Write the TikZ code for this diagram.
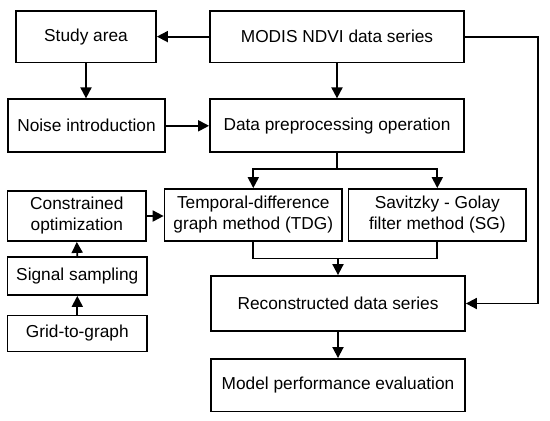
\documentclass[tikz,border=0pt]{standalone}
\usepackage{fontspec}
\setmainfont{Liberation Sans}
\usetikzlibrary{arrows.meta}
\begin{document}
\begin{tikzpicture}[x=1pt,y=-1pt, line width=1.8pt,
  box/.style={draw, line width=1.8pt, inner sep=0pt, align=center,
    font=\fontsize{17.3}{21}\selectfont},
  arr/.style={line width=1.8pt, -{Triangle[length=11pt,width=11pt]}},
  ln/.style={line width=1.8pt}]
\useasboundingbox[fill=white] (0,0) rectangle (550,421);
\node[box, minimum width=140pt, minimum height=51.8pt] (study) at (86,36.6) {Study area};
\node[box, minimum width=254pt, minimum height=51.8pt] (modis) at (337,36.6) {MODIS NDVI data series};
\node[box, minimum width=157pt, minimum height=53pt] (noise) at (86.5,125.8) {Noise introduction};
\node[box, minimum width=254pt, minimum height=53pt] (prep) at (337,125.8) {Data preprocessing operation};
\node[box, minimum width=138.5pt, minimum height=50pt] (cons) at (76.8,216) {Constrained\\optimization};
\node[box, minimum width=177.5pt, minimum height=52pt] (tdg) at (253.3,215) {Temporal-difference\\graph method (TDG)};
\node[box, minimum width=177.5pt, minimum height=52pt] (sg) at (437.3,215) {Savitzky - Golay\\filter method (SG)};
\node[box, minimum width=139.5pt, minimum height=38pt] (sig) at (77.3,276) {Signal sampling};
\node[box, minimum width=139.5pt, minimum height=36pt] (grid) at (77.3,333.5) {Grid-to-graph};
\node[box, minimum width=254pt, minimum height=55pt] (recon) at (338,303.5) {Reconstructed data series};
\node[box, minimum width=254pt, minimum height=52.5pt] (model) at (338,385.2) {Model performance evaluation};
\coordinate (j1) at (337,169);
\coordinate (j2) at (338,258.5);
\coordinate (rt) at (537.6,36.6);
\draw[arr] (modis.west) -- (study.east);
\draw[arr] (study.south) -- (study.south |- noise.north);
\draw[arr] (modis.south) -- (prep.north);
\draw[arr] (noise.east) -- (prep.west);
\draw[ln] (prep.south) -- (j1);
\draw[arr] (j1) -| (tdg.north);
\draw[arr] (j1) -| (sg.north);
\draw[arr] (cons.east) -- (cons.east -| tdg.west);
\draw[arr] (sig.north) -- (cons.south);
\draw[arr] (grid.north) -- (sig.south);
\draw[ln] (tdg.south) |- (j2) -| (sg.south);
\draw[arr] (j2) -- (recon.north);
\draw[arr] (modis.east) -- (rt) |- (recon.east);
\draw[arr] (recon.south) -- (model.north);
\end{tikzpicture}
\end{document}
